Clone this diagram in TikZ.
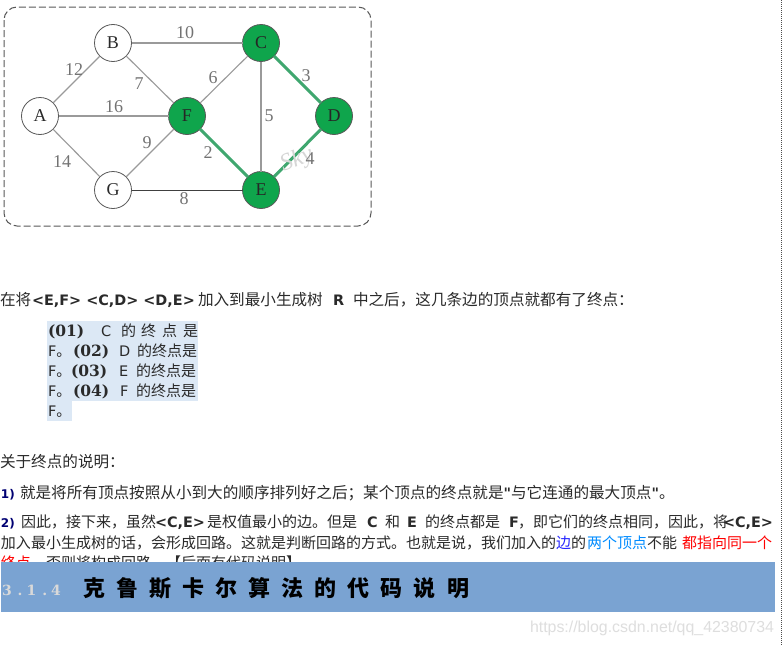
\documentclass[tikz,border=0pt]{standalone}
\usepackage{fontspec}
\setmainfont{Noto Sans CJK SC}
\newfontfamily\blat{DejaVu Sans}[BoldFont={DejaVu Sans Bold}]
\newfontfamily\bser{DejaVu Serif}[BoldFont={DejaVu Serif Bold}]
\newfontfamily\lser{Liberation Serif}
\newfontfamily\lsan{Liberation Sans}
\newcommand{\bl}[1]{{\blat\bfseries\fontsize{14.4}{18}\selectfont #1}}
\newcommand{\bs}[1]{{\bser\bfseries\fontsize{15.5}{18}\selectfont #1}}
\newcommand{\rg}[1]{{\blat\fontsize{14.5}{18}\selectfont #1}}
\newcommand{\nm}[1]{{\blat\bfseries\fontsize{12}{14}\selectfont\textcolor{blue!45!black}{#1}}}
\definecolor{hl}{HTML}{DCE8F5}
\definecolor{nodegreen}{HTML}{0FA54C}
\definecolor{edgegray}{HTML}{9A9A9A}
\definecolor{edgegreen}{HTML}{3FA76F}
\definecolor{txt}{HTML}{2A2A2A}
\definecolor{banner}{HTML}{7AA3D2}
\tikzset{
  x=1pt,y=-1pt,
  every node/.style={inner sep=0pt,outer sep=0pt,text=txt},
  para/.style={anchor=base west,font=\fontsize{15}{18}\selectfont},
  parb/.style={anchor=base west,font=\fontsize{15.6}{18}\selectfont},
  vtx/.style={circle,draw=black!65,line width=0.8pt,minimum size=37pt,fill=white,font=\lser\fontsize{18}{20}\selectfont},
  gv/.style={vtx,fill=nodegreen,text=black!85},
  wt/.style={font=\lser\fontsize{18}{20}\selectfont,text=black!55},
  ed/.style={draw=edgegray,line width=1.1pt},
  gd/.style={draw=edgegreen,line width=3pt},
}
\newcommand{\bsp}{\hskip 11.1pt}
\begin{document}
\begin{tikzpicture}
\useasboundingbox (0,0) rectangle (783,645);
\fill[white] (0,0) rectangle (783,645);
% frame
\draw[black!65,line width=1pt,dash pattern=on 7pt off 3pt,rounded corners=13pt] (4,7) rectangle (371,226);
% vertices
\node[vtx] (A) at (40,116) {A};
\node[vtx] (B) at (113,43) {B};
\node[gv] (C) at (261,43) {C};
\node[gv] (D) at (334,116) {D};
\node[gv] (E) at (261,190) {E};
\node[gv] (F) at (187,116) {F};
\node[vtx] (G) at (113,190) {G};
% edges
\draw[ed] (A)--(B); \draw[ed] (A)--(F); \draw[ed] (A)--(G);
\draw[ed] (B)--(C); \draw[ed] (B)--(F); \draw[ed] (G)--(F);
\draw[ed] (F)--(C); \draw[ed] (C)--(E);
\draw[draw=black!75,line width=0.9pt] (G)--(E);
\draw[gd] (C)--(D); \draw[gd] (D)--(E); \draw[gd] (F)--(E);
% weights
\node[wt] (w10) at (185,33) {10};
\node[wt] (w12) at (74,70) {12};
\node[wt] (w7) at (139,84) {7};
\node[wt] (w6) at (213,78) {6};
\node[wt] (w3) at (306,76) {3};
\node[wt] (w16) at (114,107) {16};
\node[wt] (w5) at (269,116) {5};
\node[wt] (w9) at (147,143) {9};
\node[wt] (w2) at (208,153) {2};
\node[rotate=22,font=\lser\itshape\fontsize{24}{26}\selectfont,text=black!16] (sky) at (297,160) {Sky};
\node[wt] (w4) at (310,159) {4};
\node[wt] (w14) at (62,162) {14};
\node[wt] (w8) at (184,199) {8};
% first line
\node[parb] (l1a) at (0,305) {在将};
\node[parb] (l1b) at (32,305) {\bl{<E,F> <C,D> <D,E>}};
\node[parb] (l1c) at (198,305) {加入到最小生成树};
\node[parb] (l1d) at (333,305) {\bl{R}};
\node[parb] (l1e) at (353,305) {中之后，这几条边的顶点就都有了终点：};
% highlight rows
\fill[hl] (47,321) rectangle (198,401);
\fill[hl] (47,401) rectangle (72,421);
\node[para] (r1a) at (48,336) {\bs{(01)}};
\node[para] (r1b) at (101,336) {\rg{C}};
\node[para] (r1c) at (121,336) {的};
\node[para] (r1d) at (141,336) {终};
\node[para] (r1e) at (162,336) {点};
\node[para] (r1f) at (183,336) {是};
\node[para] (r2a) at (48,356) {\rg{F}。};
\node[para] (r2b) at (73,356) {\bs{(02)}};
\node[para] (r2c) at (119,356) {\rg{D}};
\node[para] (r2d) at (137,356) {的终点是};
\node[para] (r3a) at (48,376) {\rg{F}。};
\node[para] (r3b) at (71,376) {\bs{(03)}};
\node[para] (r3c) at (119,376) {\rg{E}};
\node[para] (r3d) at (136,376) {的终点是};
\node[para] (r4a) at (48,396) {\rg{F}。};
\node[para] (r4b) at (73,396) {\bs{(04)}};
\node[para] (r4c) at (120,396) {\rg{F}};
\node[para] (r4d) at (136,396) {的终点是};
\node[para] (r5a) at (48,416) {\rg{F}。};
\node[parb] (l2) at (0,467) {关于终点的说明：};
\node[parb] (l3a) at (1,498) {\nm{1)}};
\node[parb] (l3b) at (20,498) {就是将所有顶点按照从小到大的顺序排列好之后；某个顶点的终点就是\bl{"}与它连通的最大顶点\bl{"}。};
\node[para] (l4a) at (1,527) {\nm{2)}};
\node[para] (l4b) at (21,527) {因此，接下来，虽然};
\node[para] (l4c) at (155,527) {\bl{<C,E>}};
\node[para] (l4d) at (207,527) {是权值最小的边。但是};
\node[para] (l4e) at (367,527) {\bl{C}};
\node[para] (l4f) at (385,527) {和};
\node[para] (l4g) at (407,527) {\bl{E}};
\node[para] (l4h) at (425,527) {的终点都是};
\node[para] (l4i) at (509,527) {\bl{F}};
\node[para] (l4j) at (518,527) {，即它们的终点相同，因此，将};
\node[para] (l4k) at (723,527) {\bl{<C,E>}};
\node[para] (l5a) at (1,548) {加入最小生成树的话，会形成回路。这就是判断回路的方式。也就是说，我们加入的\textcolor{blue!85!white}{边}的};
\node[para] (l5b) at (587,548) {\textcolor{blue!45!cyan}{两个顶点}不能};
\node[para] (l5c) at (682,548) {\textcolor{red}{都指向同一个}};
\node[para] (l6) at (1,568) {\textcolor{red}{终点}。否则将构成回路。【后面有代码说明】};
% banner
\fill[banner] (1,562) rectangle (775,612);
\node[anchor=base west,font=\bser\bfseries\fontsize{14}{18}\selectfont,text=white!85!black] (bn) at (2,595) {3\hskip 6pt.\hskip 4pt1\hskip 6pt.\hskip 4pt4};
\node[anchor=base west,font=\bfseries\fontsize{22}{24}\selectfont,text=black] (bt) at (83,596) {克\bsp 鲁\bsp 斯\bsp 卡\bsp 尔\bsp 算\bsp 法\bsp 的\bsp 代\bsp 码\bsp 说\bsp 明};
% watermark
\node[anchor=base east,font=\lsan\fontsize{15.9}{19}\selectfont,text=black!13] (wm) at (774,632) {https://blog.csdn.net/qq\_42380734};
% right border
\coordinate (rt) at (781,0); \coordinate (rb) at (781,645);
\draw[black!70,line width=1pt,dash pattern=on 1pt off 1pt] (rt)--(rb);
\end{tikzpicture}
\end{document}
